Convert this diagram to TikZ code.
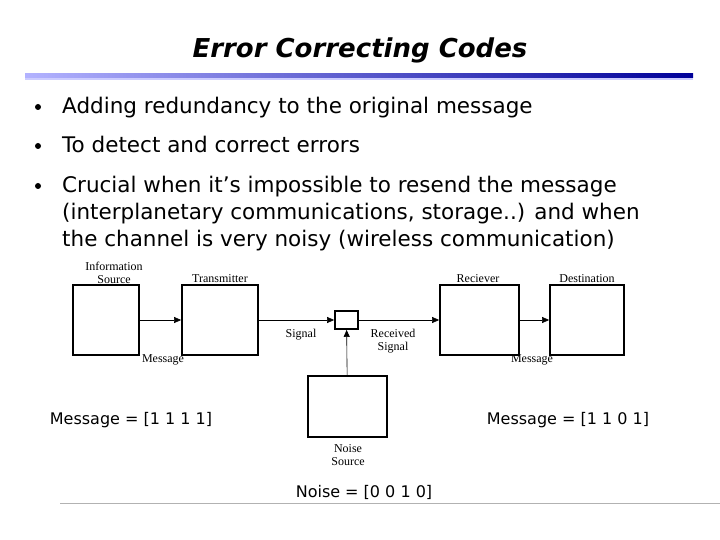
\documentclass[tikz,border=0pt]{standalone}
\usepackage{fontspec}
\setmainfont{DejaVu Sans}
\newfontfamily\tms{Liberation Serif}
\usetikzlibrary{arrows.meta}
\begin{document}
\begin{tikzpicture}[x=1pt,y=-1pt,
  blk/.style={draw,line width=1.8pt},
  lab/.style={font=\tms\fontsize{12}{12.5}\selectfont,align=center,inner sep=0},
  bl/.style={font=\fontsize{21.5}{24}\selectfont,anchor=base west,inner sep=0},
  eq/.style={font=\fontsize{16}{18}\selectfont,inner sep=0},
  arr/.style={-{Triangle[length=7pt,width=6pt]},line width=0.6pt}]
\useasboundingbox (0,0) rectangle (720,540);
\node[font=\bfseries\itshape\fontsize{26}{30}\selectfont] (title) at (360,50) {Error Correcting Codes};
\shade[left color=blue!30!white,right color=blue!60!black] (25,74) rectangle (693,78);
\fill[blue!20!white] (25,78) rectangle (693,80);
\foreach \y/\t [count=\i] in {114/Adding redundancy to the original message,153/To detect and correct errors,193/Crucial when it’s impossible to resend the message}{
  \fill (38,\y-7) circle (3);
  \node[bl] (b\i) at (62,\y) {\t};}
\node[bl] (b4) at (62,220) {(interplanetary communications, storage..) and when};
\node[bl] (b5) at (62,247) {the channel is very noisy (wireless communication)};
\node[blk,minimum width=66,minimum height=70] (src) at (106,320) {};
\node[blk,minimum width=76,minimum height=70] (tx) at (220,320) {};
\node[blk,minimum width=23,minimum height=18] (ch) at (346.5,320) {};
\node[blk,minimum width=79,minimum height=70] (rx) at (479.5,320) {};
\node[blk,minimum width=74,minimum height=70] (dst) at (587,320) {};
\node[blk,minimum width=79,minimum height=61] (ns) at (347.5,406.5) {};
\draw[arr] (src) -- (tx);
\draw[arr] (tx) -- (ch);
\draw[arr] (ch) -- (rx);
\draw[arr] (rx) -- (dst);
\draw[arr] (ns) -- (ch);
\node[lab] (l1) at (114,273) {Information\\Source};
\node[lab] (l2) at (220,279) {Transmitter};
\node[lab] (l3) at (478,279) {Reciever};
\node[lab] (l4) at (587,279) {Destination};
\node[lab] (l5) at (301,335) {Signal};
\node[lab] (l6) at (393,341) {Received\\Signal};
\node[lab] (l7) at (163,360) {Message};
\node[lab] (l8) at (532,360) {Message};
\node[lab] (l9) at (348,455) {Noise\\Source};
\node[eq] (e1) at (131,420) {Message = [1 1 1 1]};
\node[eq] (e2) at (568,420) {Message = [1 1 0 1]};
\node[eq] (e3) at (364,492) {Noise = [0 0 1 0]};
\draw[gray!60,line width=1pt] (60,503) -- (720,503);
\end{tikzpicture}
\end{document}
